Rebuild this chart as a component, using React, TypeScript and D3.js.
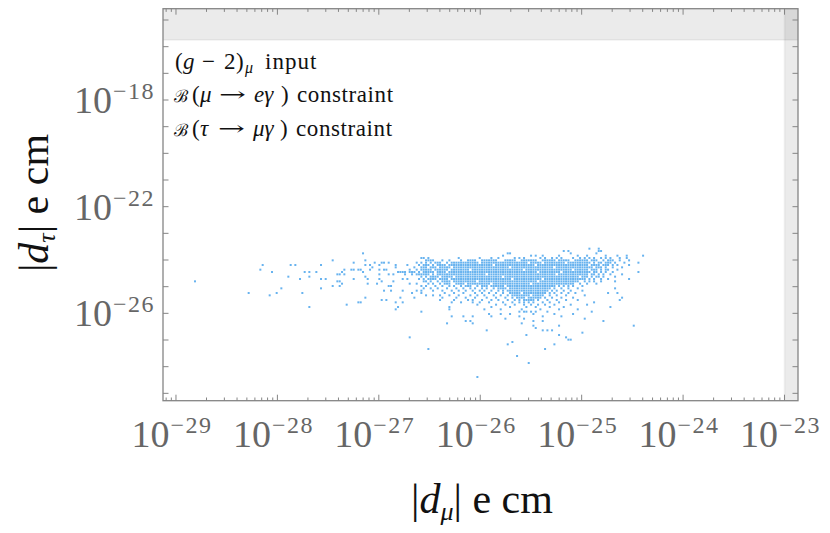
import React from "react";
import * as d3 from "d3";

const W = 830;
const H = 533;

// Axis ranges (log10 of the value)
const xDomainExp: [number, number] = [-29.128, -22.867];
const yDomainExp: [number, number] = [-29.276, -14.576];
const xMajorExps = [-29, -28, -27, -26, -25, -24, -23];
const xMinorDecades = [-30, -29, -28, -27, -26, -25, -24, -23];
const yTickExps = [-29, -28, -27, -26, -25, -24, -23, -22, -21, -20, -19, -18, -17, -16, -15];
const yLabelExps = [-26, -22, -18];

// Excluded regions (shaded)
const tauExcludedAbove = Math.pow(10, -15.75);
const muExcludedAbove = 1e-23;

// Scatter: points lie on the picture's sample lattice.
// column k -> log10|d_mu| = dmuLogStart + k*dmuLogStep ; row m -> log10|d_tau| = dtauLogStart + m*dtauLogStep
const dmuLogStart = -28.9046;
const dmuLogStep = 0.023011;
const dtauLogStart = -23.575;
const dtauLogStep = -0.0875;

const scatterRows: string[] = [
  "173,177",
  "162,164,177,178",
  "76,138,139,165,176",
  "136,148,150,153,160,168,172,180,185,189,196",
  "101,102,104,117,126,131,134,141,143,145,152,154,157,159,161,166,169,171,173,175,178,180,182,186,189",
  "63,77,103-106,110,113,118,121-124,127-133,137-141,144-150,153-158,160-164,167-172,174-176,179,181-183,186,190",
  "72,81,84,85,87,99,101,103,105,107-109,112,114-125,127-146,148-152,154-162,164-173,175,177,178,180-182,184,188,194",
  "33,45,47,58,77,79,83,90,95,100,102-104,106,108-111,113-131,133-149,151-172,174-177,179-181,183,185,190",
  "80,90,98,101-103,105-107,109-113,115-138,140-157,159-174,176-178,180,183,187",
  "32,68,71,72,74,75,79,83,85,86,96,99,101-105,107-112,114-121,123-144,146-165,167-172,174-176,178,180,181,185",
  "37,51,53,56,67,76,91-94,96-98,100,102-106,108-111,113-150,152-160,162-173,175,176,178,180,183,194",
  "65,66,68,83,87,89,94,97,99-104,106,108-128,130-158,160-172,174,175,177,179,182,187",
  "44,53,77,101,103,105-108,110-114,116-135,137-168,170-172,174,176,177,179,184",
  "49,58,60,72,78,83,93,95,100,102,104-107,109-112,114-139,141-152,154-171,173,175,178,181,190",
  "4,65,66,84,89,102,103,105,108,110-113,115-124,126-150,152-168,171,173,175,178,184",
  "67,78,82,96,99,104,106,109,111-113,116-119,121-130,132-147,149-166,169,172,176",
  "63,66,87,88,101,103,107,110,113,115,118,120-122,125,127-129,131-136,138-158,160,162,164,166,170",
  "41,58,102,105,108,112,116,119,122,124,127,129,132,134-137,139-156,158,161,164,168,184",
  "85,88,93,99,101,106,110,114,117,120,123,126,128,131,134,136,138-155,157,159,162,165,170",
  "27,39,50,97,101,111,115,119,124,127,130,133,136,139-143,145-154,156,158,161,164,167,181,185",
  "36,103,106,109,113,117,122,125,128,132,135,138,140-147,149-153,156,159,163,171",
  "77,92,98,110,116,120,124,129,133,137,140,142-145,147-152,154,157,161,166,187",
  "84,86,109,115,121,123,127,131,134,138,141,143,145-149,151,155,159,163,168,186",
  "74,75,90,93,114,118,123,126,130,136,140,143,145,147,149,153,156,160,175",
  "69,125,133,137,141,145,148,151,154,158,165,172",
  "53,91,113,131,139,146,150,156,162,182",
  "90,113,128,135,144,152,160,168",
  "101,143,145,146,148,150,155,174",
  "130,135,139,149,158,166",
  "114,119,123,131,143,153,161",
  "137,145,171",
  "120,122,149,153,179",
  "112,123,144",
  "149,160,192",
  "150",
  "129,153,155,157",
  "170",
  "146,160",
  "96,163",
  "164,165",
  "140",
  "138,158",
  "",
  "104,154",
  "",
  "",
  "142",
  "",
  "",
  "147",
  "",
  "",
  "",
  "",
  "",
  "125",
];

type Pt = { dmu: number; dtau: number };

function parsePoints(): Pt[] {
  const pts: Pt[] = [];
  scatterRows.forEach((row, m) => {
    if (!row) return;
    row.split(",").forEach((tok) => {
      const parts = tok.split("-").map(Number);
      const a = parts[0];
      const b = parts.length > 1 ? parts[1] : parts[0];
      for (let k = a; k <= b; k++) {
        pts.push({
          dmu: Math.pow(10, dmuLogStart + k * dmuLogStep),
          dtau: Math.pow(10, dtauLogStart + m * dtauLogStep),
        });
      }
    });
  });
  return pts;
}

const points = parsePoints();

const left = 163;
const right = 798;
const top = 8.7;
const bottom = 400.7;

const x = d3
  .scaleLog()
  .domain([Math.pow(10, xDomainExp[0]), Math.pow(10, xDomainExp[1])])
  .range([left, right]);
const y = d3
  .scaleLog()
  .domain([Math.pow(10, yDomainExp[0]), Math.pow(10, yDomainExp[1])])
  .range([bottom, top]);

const serif = "'Liberation Serif', 'DejaVu Serif', serif";
const axisGray = "#858585";
const labelGray = "#666666";

function Pow10Label(props: { x: number; y: number; e: number; anchor: "middle" | "end" }) {
  return (
    <text x={props.x} y={props.y} textAnchor={props.anchor} fontSize={38} fill={labelGray} fontFamily={serif}>
      10
      <tspan dy={-14} dx={1} fontSize={24} letterSpacing={1.5}>
        {"−" + Math.abs(props.e)}
      </tspan>
    </text>
  );
}

export default function App() {
  const xMinor: number[] = [];
  xMinorDecades.forEach((e) => {
    for (let j = 2; j <= 9; j++) {
      const v = j * Math.pow(10, e);
      const px = x(v);
      if (px > left + 0.5 && px < right - 0.5) xMinor.push(v);
    }
  });
  const xMajor = xMajorExps.map((e) => Math.pow(10, e));
  const yTicks = yTickExps.map((e) => Math.pow(10, e)).filter((v) => y(v) > top && y(v) < bottom);

  const bandY = y(tauExcludedAbove);
  const bandX = x(muExcludedAbove);
  const s = 2.0;
  const it = { fontStyle: "italic" as const };
  const scriptFont = "'DejaVu Serif', serif";

  return (
    <svg width={W} height={H} style={{ display: "block", position: "absolute", left: 0, top: 0 }}>
      <rect x={0} y={0} width={W} height={H} fill="#ffffff" />
      {/* shaded excluded regions */}
      <rect x={left} y={top} width={right - left} height={bandY - top} fill="rgba(0,0,0,0.078)" />
      <line x1={left} x2={right} y1={bandY} y2={bandY} stroke="rgba(0,0,0,0.04)" strokeWidth={2} />
      <rect x={bandX} y={top} width={right - bandX} height={bottom - top} fill="rgba(0,0,0,0.078)" />
      <line x1={bandX} x2={bandX} y1={top} y2={bottom} stroke="rgba(0,0,0,0.04)" strokeWidth={2} />

      {/* scatter */}
      <g fill="#68b3ef">
        {points.map((p, i) => (
          <rect key={i} x={x(p.dmu) - s / 2} y={y(p.dtau) - s / 2} width={s} height={s} />
        ))}
      </g>

      {/* frame */}
      <rect x={left} y={top} width={right - left} height={bottom - top} fill="none" stroke={axisGray} strokeWidth={1.3} />

      {/* ticks */}
      <g stroke={axisGray} strokeWidth={1}>
        {xMajor.map((v, i) => (
          <g key={"xM" + i}>
            <line x1={x(v)} x2={x(v)} y1={bottom} y2={bottom - 6} />
            <line x1={x(v)} x2={x(v)} y1={top} y2={top + 6} />
          </g>
        ))}
        {xMinor.map((v, i) => (
          <g key={"xm" + i}>
            <line x1={x(v)} x2={x(v)} y1={bottom} y2={bottom - 3.2} />
            <line x1={x(v)} x2={x(v)} y1={top} y2={top + 3.2} />
          </g>
        ))}
        {yTicks.map((v, i) => (
          <g key={"y" + i}>
            <line x1={left} x2={left + 5.5} y1={y(v)} y2={y(v)} />
            <line x1={right} x2={right - 5.5} y1={y(v)} y2={y(v)} />
          </g>
        ))}
      </g>

      {/* tick labels */}
      {xMajorExps.map((e) => (
        <Pow10Label key={"xl" + e} x={x(Math.pow(10, e)) - 4} y={446.5} e={e} anchor="middle" />
      ))}
      {yLabelExps.map((e) => (
        <Pow10Label key={"yl" + e} x={155} y={y(Math.pow(10, e)) + 13} e={e} anchor="end" />
      ))}

      {/* legend */}
      <g fontFamily={serif} fontSize={23} fill="#111">
        <text y={68.5}>
          <tspan x={175}>(</tspan>
          <tspan x={183} {...it}>g</tspan>
          <tspan x={202}>−</tspan>
          <tspan x={224}>2</tspan>
          <tspan x={236}>)</tspan>
          <tspan x={245} dy={4} fontSize={16} {...it}>μ</tspan>
        </text>
        <text x={265} y={68.5} letterSpacing={1}>input</text>

        <text x={174} y={102} fontFamily={scriptFont} fontSize={17}>ℬ</text>
        <text x={192} y={102}>(</text>
        <text x={200} y={102} {...it}>μ</text>
        <text x={219} y={101} textLength={27} lengthAdjust="spacingAndGlyphs" fontFamily={scriptFont} fontSize={20}>→</text>
        <text x={254} y={102} {...it}>eγ</text>
        <text x={281} y={102}>)</text>
        <text x={297} y={102} letterSpacing={0.6}>constraint</text>

        <text x={174} y={135.5} fontFamily={scriptFont} fontSize={17}>ℬ</text>
        <text x={192} y={135.5}>(</text>
        <text x={200} y={135.5} {...it}>τ</text>
        <text x={218} y={134.5} textLength={27} lengthAdjust="spacingAndGlyphs" fontFamily={scriptFont} fontSize={20}>→</text>
        <text x={253} y={135.5} {...it}>μγ</text>
        <text x={280} y={135.5}>)</text>
        <text x={296} y={135.5} letterSpacing={0.6}>constraint</text>
      </g>

      {/* axis titles */}
      <text x={482} y={513} textAnchor="middle" fontFamily={serif} fontSize={42} fill="#111">
        |<tspan {...it}>d</tspan>
        <tspan dy={7} fontSize={26} {...it}>μ</tspan>
        <tspan dy={-7}>|  e  cm</tspan>
      </text>
      <text transform={`translate(48,203) rotate(-90)`} textAnchor="middle" fontFamily={serif} fontSize={42} fill="#111">
        |<tspan {...it}>d</tspan>
        <tspan dy={7} fontSize={26} {...it}>τ</tspan>
        <tspan dy={-7}>|  e  cm</tspan>
      </text>
    </svg>
  );
}
